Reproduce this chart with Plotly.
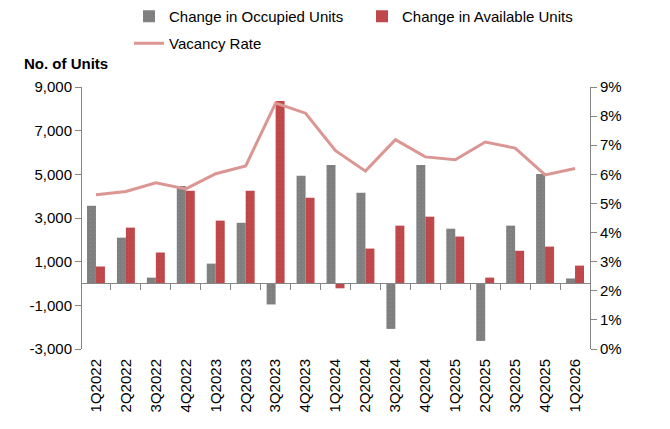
import plotly.graph_objects as go

quarters = ["1Q2022","2Q2022","3Q2022","4Q2022","1Q2023","2Q2023","3Q2023","4Q2023",
            "1Q2024","2Q2024","3Q2024","4Q2024","1Q2025","2Q2025","3Q2025","4Q2025","1Q2026"]
occupied = [3560, 2100, 270, 4470, 910, 2780, -960, 4930, 5430, 4160, -2080, 5430, 2510, -2630, 2650, 5020, 230]
available = [780, 2560, 1420, 4250, 2880, 4250, 8360, 3930, -220, 1600, 2650, 3060, 2150, 270, 1500, 1690, 820]
vacancy = [5.30, 5.41, 5.71, 5.50, 6.02, 6.29, 8.45, 8.10, 6.81, 6.11, 7.19, 6.60, 6.50, 7.11, 6.90, 5.98, 6.20]

left_ticks = [-3000, -1000, 1000, 3000, 5000, 7000, 9000]
left_text = ["-3,000", "-1,000", "1,000", "3,000", "5,000", "7,000", "9,000"]
right_ticks = [0, 1, 2, 3, 4, 5, 6, 7, 8, 9]
right_text = [f"{v}%" for v in right_ticks]

FONT = "Liberation Sans, Arial, sans-serif"
AX = "#868686"
FS = 15

fig = go.Figure()
fig.add_trace(go.Bar(x=quarters, y=occupied, name="Change in Occupied Units",
                     marker=dict(color="#7F7F7F", line=dict(width=0),
                                 pattern=dict(shape=".", size=4, solidity=0.12,
                                              fgcolor="#969696", bgcolor="#7F7F7F")),
                     xaxis="x", yaxis="y", legend="legend"))
fig.add_trace(go.Bar(x=quarters, y=available, name="Change in Available Units",
                     marker=dict(color="#C0494B", line=dict(width=0),
                                 pattern=dict(shape=".", size=4, solidity=0.12,
                                              fgcolor="#94393B", bgcolor="#C2494B")),
                     xaxis="x", yaxis="y", legend="legend"))
fig.add_trace(go.Scatter(x=quarters, y=vacancy, name="Vacancy Rate", mode="lines",
                         line=dict(color="#DB9593", width=3),
                         xaxis="x", yaxis="y2", legend="legend2"))

fig.update_layout(
    width=670, height=429,
    margin=dict(l=81, r=80, t=87, b=80),
    paper_bgcolor="white", plot_bgcolor="white",
    font=dict(family=FONT, size=FS, color="black"),
    barmode="group", bargap=0.4, bargroupgap=0,
    xaxis=dict(type="category", categoryorder="array", categoryarray=quarters,
               anchor="free", position=(349 - 283) / 262,
               showline=True, linecolor=AX, linewidth=1,
               ticks="outside", ticklen=6, tickcolor=AX, tickson="boundaries",
               showticklabels=True, tickangle=-90, ticklabelstandoff=69,
               tickfont=dict(size=FS),
               showgrid=False, zeroline=False, range=[-0.5, 16.5]),
    yaxis=dict(range=[-3000, 9000], tickvals=left_ticks, ticktext=left_text,
               anchor="free", position=0,
               showline=True, linecolor=AX, linewidth=1, ticks="outside", ticklen=6,
               tickcolor=AX, showgrid=False, zeroline=False, tickfont=dict(size=FS)),
    yaxis2=dict(range=[0, 9], tickvals=right_ticks, ticktext=right_text,
                overlaying="y", side="right", anchor="free", position=1,
                showline=True, linecolor=AX, linewidth=1, ticks="outside", ticklen=6,
                tickcolor=AX, showgrid=False, zeroline=False, tickfont=dict(size=FS)),
    legend=dict(orientation="h", xref="container", yref="container",
                x=129/670, y=1-0/429, xanchor="left", yanchor="top",
                entrywidth=188, entrywidthmode="pixels",
                font=dict(size=FS), bgcolor="rgba(0,0,0,0)", traceorder="normal"),
    legend2=dict(orientation="h", xref="container", yref="container",
                 x=129/670, y=1-27/429, xanchor="left", yanchor="top",
                 font=dict(size=FS), bgcolor="rgba(0,0,0,0)"),
    annotations=[dict(text="<b>No. of Units</b>", xref="paper", yref="paper",
                      x=(22 - 81) / 509, y=1 + (87 - 63) / 262, xanchor="left", yanchor="middle",
                      showarrow=False, font=dict(size=FS))],
)

fig.write_html("out.html")
